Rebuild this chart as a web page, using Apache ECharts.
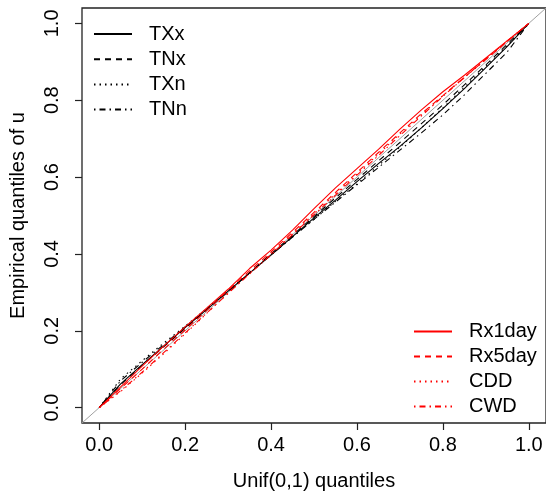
<!DOCTYPE html>
<html>
<head>
<meta charset="utf-8">
<script src="https://cdn.jsdelivr.net/npm/echarts@6/dist/echarts.min.js"></script>
<style>
  html, body { margin: 0; padding: 0; background: #fff; }
  #chart { width: 546px; height: 496px; }
</style>
</head>
<body>
<div id="chart"></div>
<script>
// Theoretical Unif(0,1) quantiles
const uniformQuantiles = [0, 0.05, 0.10, 0.15, 0.20, 0.25, 0.30, 0.35, 0.40, 0.45, 0.50,
                          0.55, 0.60, 0.65, 0.70, 0.75, 0.80, 0.85, 0.90, 0.95, 1.00];

// Empirical quantiles of u for each index
const TXx    = [0, 0.062, 0.112, 0.160, 0.208, 0.255, 0.303, 0.350, 0.397, 0.445, 0.494,
                0.540, 0.588, 0.635, 0.680, 0.728, 0.778, 0.830, 0.885, 0.940, 1];
const TNx    = [0, 0.060, 0.110, 0.158, 0.206, 0.254, 0.302, 0.351, 0.400, 0.448, 0.497,
                0.546, 0.594, 0.642, 0.690, 0.739, 0.788, 0.840, 0.892, 0.946, 1];
const TXn    = [0, 0.075, 0.122, 0.168, 0.212, 0.258, 0.304, 0.351, 0.398, 0.444, 0.490,
                0.537, 0.582, 0.630, 0.678, 0.728, 0.780, 0.834, 0.888, 0.942, 1];
const TNn    = [0, 0.070, 0.118, 0.164, 0.210, 0.256, 0.303, 0.350, 0.397, 0.444, 0.490,
                0.535, 0.580, 0.625, 0.670, 0.715, 0.762, 0.814, 0.870, 0.926, 1];
const Rx1day = [0, 0.054, 0.108, 0.160, 0.210, 0.259, 0.308, 0.362, 0.410, 0.462, 0.518,
                0.572, 0.622, 0.672, 0.725, 0.775, 0.822, 0.865, 0.910, 0.955, 1];
const Rx5day = [0, 0.050, 0.100, 0.152, 0.202, 0.253, 0.305, 0.356, 0.405, 0.456, 0.508,
                0.560, 0.612, 0.664, 0.715, 0.765, 0.812, 0.860, 0.906, 0.953, 1];
const CDD    = [0, 0.042, 0.090, 0.140, 0.192, 0.245, 0.298, 0.349, 0.400, 0.452, 0.504,
                0.556, 0.608, 0.660, 0.712, 0.762, 0.812, 0.859, 0.906, 0.954, 1];
const CWD    = [0, 0.044, 0.092, 0.143, 0.194, 0.246, 0.297, 0.348, 0.398, 0.450, 0.502,
                0.553, 0.605, 0.656, 0.708, 0.759, 0.810, 0.859, 0.908, 0.954, 1];

// Reference line y = x across the plotting region
const identityLine = [[-0.04, -0.04], [1.04, 1.04]];

// Axis ticks
const tickValues = [0, 0.2, 0.4, 0.6, 0.8, 1.0];

const FONT = '"Liberation Sans", Arial, sans-serif';
const DASH = [6, 5];
const DOT = [1.5, 4];
const DASHDOT = [1.5, 4, 6, 4];

const seriesDefs = [
  { name: 'TXx',    data: TXx,    color: '#000000', type: 'solid' },
  { name: 'TNx',    data: TNx,    color: '#000000', type: DASH },
  { name: 'TXn',    data: TXn,    color: '#000000', type: DOT },
  { name: 'TNn',    data: TNn,    color: '#000000', type: DASHDOT },
  { name: 'Rx1day', data: Rx1day, color: '#ff0000', type: 'solid' },
  { name: 'Rx5day', data: Rx5day, color: '#ff0000', type: DASH },
  { name: 'CDD',    data: CDD,    color: '#ff0000', type: DOT },
  { name: 'CWD',    data: CWD,    color: '#ff0000', type: DASHDOT }
];

const pair = arr => uniformQuantiles.map((u, i) => [u, arr[i]]);

const series = [{
  name: 'identity',
  type: 'line',
  data: identityLine,
  symbol: 'none',
  silent: true,
  z: 1,
  lineStyle: { color: '#a0a0a0', width: 1 }
}].concat(seriesDefs.map(s => ({
  name: s.name,
  type: 'line',
  data: pair(s.data),
  symbol: 'none',
  showSymbol: false,
  z: 2,
  color: s.color,
  lineStyle: { color: s.color, width: 1.1, type: s.type }
})));

const legendCommon = {
  orient: 'vertical',
  padding: 0,
  itemWidth: 38,
  itemHeight: 14,
  selectedMode: false,
  itemStyle: { opacity: 0 },
  lineStyle: { width: 2 },
  textStyle: { fontFamily: FONT, fontSize: 20, color: '#000', padding: [0, 0, 0, 12] }
};

const axisCommon = {
  type: 'value',
  min: -0.04, max: 1.04,
  nameLocation: 'middle',
  nameTextStyle: { fontFamily: FONT, fontSize: 20, color: '#000' },
  axisLine: { show: false, onZero: false },
  splitLine: { show: false },
  axisTick: { show: true, inside: false, length: 7, customValues: tickValues, lineStyle: { color: '#222', width: 1.2 } }
};

const chart = echarts.init(document.getElementById('chart'), null, { renderer: 'canvas' });
chart.setOption({
  animation: false,
  backgroundColor: '#ffffff',
  grid: {
    left: 75.5, right: -1, top: 8, bottom: 66,
    show: true, borderColor: '#222', borderWidth: 1.3, backgroundColor: 'transparent'
  },
  legend: [
    Object.assign({}, legendCommon, {
      left: 93, top: 24, itemGap: 5.2,
      data: ['TXx', 'TNx', 'TXn', 'TNn']
    }),
    Object.assign({}, legendCommon, {
      left: 413, top: 321.5, itemGap: 5,
      data: ['Rx1day', 'Rx5day', 'CDD', 'CWD']
    })
  ],
  xAxis: Object.assign({}, axisCommon, {
    name: 'Unif(0,1) quantiles',
    nameGap: 48,
    axisLabel: {
      customValues: tickValues,
      formatter: v => v.toFixed(1),
      fontFamily: FONT, fontSize: 20, color: '#000', margin: 12
    }
  }),
  yAxis: Object.assign({}, axisCommon, {
    name: 'Empirical quantiles of u',
    nameGap: 54,
    axisLabel: {
      customValues: tickValues,
      formatter: v => v.toFixed(1),
      rotate: 90,
      fontFamily: FONT, fontSize: 20, color: '#000', margin: 20
    }
  }),
  series: series
});
</script>
</body>
</html>
